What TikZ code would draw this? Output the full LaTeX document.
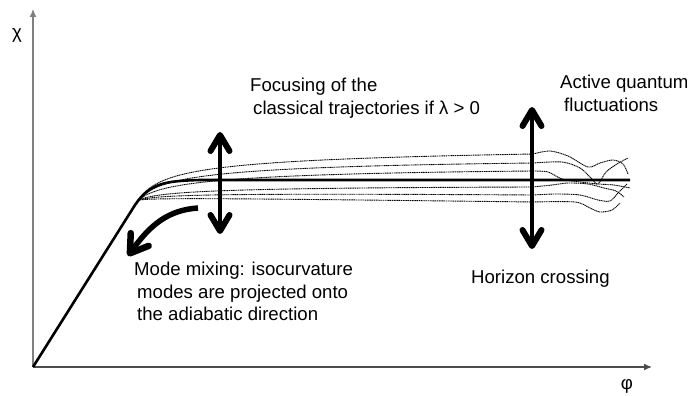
\documentclass[tikz,border=0pt]{standalone}
\usepackage{fontspec}
\setmainfont{Liberation Sans}
\usetikzlibrary{arrows.meta}

\tikzset{
  axis/.style={line width=1.3pt, -{Latex[length=8pt,width=7pt]}},
  traj/.style={line width=0.9pt, dash pattern=on 1.2pt off 0.6pt},
  attractor/.style={line width=2.6pt},
  headtip/.tip={Straight Barb[length=16pt,width=19pt,line width=6pt,round]},
  bigarrow/.style={line width=4.8pt, {headtip}-{headtip}},
  mixarrow/.style={line width=5.5pt, -{Straight Barb[length=17pt,width=22pt,line width=6.5pt,round]}},
  txt/.style={inner sep=0pt, align=left, anchor=north west, font=\fontsize{18.6}{22.5}\selectfont},
  greek/.style={inner sep=0pt, font=\fontsize{18.6}{22.5}\selectfont},
}

\begin{document}
\begin{tikzpicture}[x=1pt, y=-1pt]
    \useasboundingbox (0,0) rectangle (689,396);

    % axes
    \coordinate (O) at (33,367);
    \coordinate (ytip) at (33,9);
    \coordinate (xtip) at (652,367);
    \draw[axis, black!50] (O) -- (ytip);
    \draw[axis, black!70] (O) -- (xtip);
    \node[greek] (chi) at (17,35) {χ};
    \node[greek] (phi) at (627,386) {φ};

    % classical trajectories
    \coordinate (fan) at (138,200);
    \draw[traj] (fan) .. controls (160,170) and (200,160) .. (533,154)
        plot[smooth] coordinates {(533,154) (550,151) (568,156) (588,167) (600,163) (613,160) (623,164) (628,174)};
    \draw[traj] (fan) .. controls (160,177) and (200,167) .. (533,163)
        plot[smooth] coordinates {(533,163) (562,162) (580,168) (592,179) (598,184) (606,172) (617,164) (628,158)};
    \draw[traj] (fan) .. controls (160,184) and (200,174) .. (533,171)
        plot[smooth] coordinates {(533,171) (548,172) (562,179) (580,182) (598,184) (614,185) (630,188)};
    \draw[traj] (fan) .. controls (160,192) and (200,188) .. (533,187)
        plot[smooth] coordinates {(533,187) (552,185) (568,183) (588,184) (604,188) (616,191) (624,197)};
    \draw[traj] (fan) .. controls (160,195) and (200,193) .. (533,195)
        plot[smooth] coordinates {(533,195) (556,194) (580,195) (598,200) (610,201) (618,193) (627,184)};
    \draw[traj] (fan) .. controls (160,198) and (200,198) .. (533,202)
        plot[smooth] coordinates {(533,202) (575,202) (590,208) (600,212) (612,210) (620,203)};

    % attractor
    \coordinate (knee) at (135,205);
    \coordinate (flat) at (200,180);
    \coordinate (attr_end) at (630,180);
    \draw[attractor] (O) -- (knee) .. controls (150,183) and (165,181) .. (flat) -- (attr_end);

    % arrows
    \coordinate (focus_top) at (220,132);
    \coordinate (focus_bot) at (220,234);
    \draw[bigarrow] (focus_top) -- (focus_bot);
    \coordinate (horizon_top) at (532,107);
    \coordinate (horizon_bot) at (532,249);
    \draw[bigarrow] (horizon_top) -- (horizon_bot);
    \coordinate (mix_start) at (198,208);
    \coordinate (mix_end) at (128,256);
    \draw[mixarrow] (mix_start) .. controls (168,210) and (150,225) .. (mix_end);

    % labels
    \node[txt] (focusing) at (250,78) {Focusing of the\\\hspace*{3pt}classical trajectories if λ > 0};
    \node[txt] (active) at (560,75) {Active quantum\\\hspace*{4pt}fluctuations};
    \node[txt] (mixing) at (134,262) {Mode mixing: isocurvature\\\hspace*{3pt}modes are projected onto\\\hspace*{3pt}the adiabatic direction};
    \node[txt] (horizon) at (471,270) {Horizon crossing};
\end{tikzpicture}
\end{document}
